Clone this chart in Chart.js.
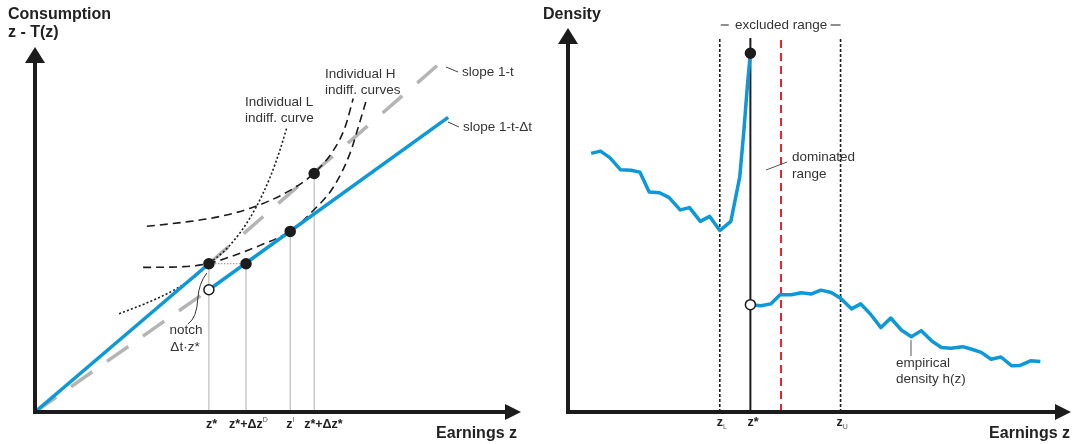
<!DOCTYPE html>
<html>
<head>
<meta charset="utf-8">
<script src="https://cdn.jsdelivr.net/npm/chart.js@4.4.1/dist/chart.umd.min.js"></script>
<style>
  html, body { margin: 0; padding: 0; background: #fff; }
  #wrap { position: relative; width: 1072px; height: 444px; overflow: hidden; }
  #budget { position: absolute; left: 0; top: 0; }
  #density { position: absolute; left: 540px; top: 0; }
</style>
</head>
<body>
<div id="wrap">
  <canvas id="budget" width="540" height="444"></canvas>
  <canvas id="density" width="532" height="444"></canvas>
</div>
<script>
// ---------- Budget set with a notch (left panel) ----------
// Earnings z on x, consumption z - T(z) on y, both in arbitrary units 0..100
const budgetBelowNotch = [{x: 0, y: 0}, {x: 37.0, y: 40.4}];     // slope 1-t up to z*
const budgetAboveNotch = [{x: 37.0, y: 33.3}, {x: 87.9, y: 80.3}]; // slope 1-t-Δt after z*
const slopeTExtension = [{x: 37.0, y: 40.4}, {x: 87.2, y: 96.2}];
const slopeTDtExtension = [{x: 0, y: 0}, {x: 37.0, y: 33.3}];

const indiffL = [
  {x: 17.9, y: 26.8}, {x: 23.4, y: 29.5}, {x: 29.4, y: 33.1}, {x: 33.8, y: 36.6},
  {x: 37.0, y: 40.4}, {x: 40.4, y: 44.0}, {x: 44.0, y: 49.5}, {x: 47.0, y: 55.7},
  {x: 50.0, y: 63.9}, {x: 52.1, y: 71.3}, {x: 53.6, y: 77.6}
];
const indiffHUpper = [
  {x: 23.8, y: 50.6}, {x: 31.6, y: 51.7}, {x: 38.7, y: 53.1}, {x: 46.4, y: 55.8},
  {x: 53.6, y: 59.9}, {x: 59.2, y: 64.9}, {x: 63.5, y: 71.3}, {x: 66.0, y: 77.7},
  {x: 67.7, y: 85.4}
];
const indiffHLower = [
  {x: 23.0, y: 39.4}, {x: 31.6, y: 39.6}, {x: 37.0, y: 40.5}, {x: 42.2, y: 42.6},
  {x: 47.9, y: 45.4}, {x: 54.3, y: 49.3}, {x: 59.2, y: 54.9}, {x: 63.5, y: 61.3},
  {x: 67.0, y: 70.4}, {x: 68.8, y: 77.7}, {x: 70.6, y: 85.4}
];

// z*, z*+Δz^D, z^I, z*+Δz*
const keyPoints = [{x: 37.0, y: 40.4}, {x: 44.9, y: 40.4}, {x: 54.3, y: 49.2}, {x: 59.4, y: 65.0}];
const notchOpenPoint = [{x: 37.0, y: 33.3}];
const budgetTicks = keyPoints.map(p => p.x);
const budgetTickLabels = [
  [{t: 'z*'}],
  [{t: 'z*+Δz'}, {t: 'D', sup: true}],
  [{t: 'z'}, {t: 'I', sup: true}],
  [{t: 'z*+Δz*'}]
];

// ---------- Earnings density (right panel) ----------
const densBelowX = [4.7, 6.6, 8.5, 10.7, 12.8, 14.6, 16.5, 18.6, 20.5, 22.8, 24.7, 26.9, 28.8, 30.85, 33.1, 34.9, 35.7, 36.5, 37.07];
const densBelowY = [67.7, 68.3, 66.6, 63.4, 63.3, 62.8, 57.6, 57.4, 56.2, 52.9, 53.5, 49.9, 51.2, 47.5, 49.9, 61.5, 72.9, 86.0, 93.9];
const densAboveX = [37.07, 39.2, 41.2, 43.1, 45.4, 47.4, 49.5, 51.4, 53.5, 55.4, 57.6, 59.5, 61.5, 63.6, 65.6, 67.8, 69.8, 71.8, 74.0, 75.9, 77.8, 80.2, 81.9, 84.0, 86.0, 88.0, 90.2, 91.9, 94.0, 96.0];
const densAboveY = [28.1, 27.8, 28.3, 30.7, 30.7, 31.2, 30.9, 31.9, 31.3, 29.8, 27.0, 28.3, 25.6, 22.1, 24.6, 21.4, 19.7, 21.3, 18.5, 16.9, 16.7, 17.1, 16.5, 15.6, 13.8, 14.4, 12.1, 12.2, 13.4, 13.2];
const zL = 30.85, zStar = 37.07, zDominatedEnd = 43.3, zU = 55.4;
const markerTop = 97.9;
const densityTicks = [zL, zStar, zU];
const densityTickLabels = [
  [{t: 'z'}, {t: 'L', sub: true}],
  [{t: 'z*'}],
  [{t: 'z'}, {t: 'U', sub: true}]
];

const toXY = (xs, ys) => xs.map((x, i) => ({x, y: ys[i]}));

// ---------- shared helpers ----------
const FONT = '"Liberation Sans", Arial, sans-serif';
const BLUE = '#0d98d8';
const INK = '#1c1c1c';
const TEXT = '#353535';

function line(data, color, width, dash, order, extra) {
  return Object.assign({
    type: 'line', data, borderColor: color, borderWidth: width, borderDash: dash || [],
    pointRadius: 0, fill: false, tension: 0, order
  }, extra || {});
}
function dots(data, fill, order) {
  return {
    type: 'line', data, showLine: false, pointRadius: 5, pointHoverRadius: 5,
    pointBackgroundColor: fill, pointBorderColor: INK, pointBorderWidth: 1.5, order
  };
}
function baseOptions(padding) {
  return {
    responsive: false, animation: false, events: [],
    layout: {padding},
    plugins: {legend: {display: false}, tooltip: {enabled: false}},
    scales: {
      x: {type: 'linear', min: 0, max: 100, display: false},
      y: {type: 'linear', min: 0, max: 100, display: false}
    }
  };
}
function text(ctx, s, x, y, font, color, align) {
  ctx.font = font; ctx.fillStyle = color || TEXT;
  ctx.textAlign = align || 'left'; ctx.textBaseline = 'middle';
  ctx.fillText(s, x, y);
}
function segment(ctx, x1, y1, x2, y2, color, w) {
  ctx.beginPath(); ctx.moveTo(x1, y1); ctx.lineTo(x2, y2);
  ctx.strokeStyle = color; ctx.lineWidth = w; ctx.setLineDash([]); ctx.stroke();
}
function arrowAxes(ctx, ox, oy, topY, rightX) {
  ctx.save();
  ctx.strokeStyle = INK; ctx.fillStyle = INK; ctx.lineWidth = 4; ctx.setLineDash([]);
  ctx.beginPath(); ctx.moveTo(ox, oy); ctx.lineTo(ox, topY + 14); ctx.stroke();
  ctx.beginPath(); ctx.moveTo(ox - 2, oy); ctx.lineTo(rightX - 14, oy); ctx.stroke();
  ctx.beginPath(); ctx.moveTo(ox, topY); ctx.lineTo(ox - 10, topY + 16); ctx.lineTo(ox + 10, topY + 16); ctx.closePath(); ctx.fill();
  ctx.beginPath(); ctx.moveTo(rightX, oy); ctx.lineTo(rightX - 16, oy - 8); ctx.lineTo(rightX - 16, oy + 8); ctx.closePath(); ctx.fill();
  ctx.restore();
}
// draws a tick label made of parts, some raised or lowered in a smaller font
function richLabel(ctx, parts, x, y) {
  let cx = x;
  parts.forEach(p => {
    const small = p.sup || p.sub;
    ctx.font = small ? '7px ' + FONT : 'bold 12.5px ' + FONT;
    ctx.fillStyle = small ? '#555' : '#222';
    ctx.textAlign = 'left'; ctx.textBaseline = 'middle';
    const dy = p.sup ? -5 : (p.sub ? 4 : 0);
    ctx.fillText(p.t, cx, y + dy);
    cx += ctx.measureText(p.t).width + (small ? 0 : 0);
  });
}

// ---------- left chart ----------
const budgetDecor = {
  id: 'budgetDecor',
  afterDatasetsDraw(chart) {
    const {ctx, scales: {x, y}} = chart;
    const ox = x.getPixelForValue(0), oy = y.getPixelForValue(0);
    arrowAxes(ctx, ox, oy, y.top + 2, x.right + 16);

    text(ctx, 'Consumption', 8, 15, 'bold 16px ' + FONT, '#222');
    text(ctx, 'z - T(z)', 8, 33, 'bold 16px ' + FONT, '#222');
    text(ctx, 'Earnings z', 517, 434, 'bold 16px ' + FONT, '#222', 'right');

    const labelShift = [-3, -17, -4, -10];
    budgetTicks.forEach((v, i) => richLabel(ctx, budgetTickLabels[i], x.getPixelForValue(v) + labelShift[i], 425));

    const f = '13.5px ' + FONT;
    text(ctx, 'Individual L', 245, 102, f);
    text(ctx, 'indiff. curve', 245, 118, f);
    text(ctx, 'Individual H', 325, 74, f);
    text(ctx, 'indiff. curves', 325, 90, f);
    text(ctx, 'slope 1-t', 462, 72, f);
    segment(ctx, 446, 67, 458, 72, '#444', 1);
    text(ctx, 'slope 1-t-Δt', 463, 127, f);
    segment(ctx, 448, 122, 459, 127, '#444', 1);
    text(ctx, 'notch', 186, 330, f, TEXT, 'center');
    text(ctx, 'Δt·z*', 185, 347, f, TEXT, 'center');

    // curved leader towards the notch
    const nx = x.getPixelForValue(keyPoints[0].x);
    ctx.save();
    ctx.beginPath();
    ctx.moveTo(nx - 2, 273);
    ctx.quadraticCurveTo(nx - 10, 283, nx - 11, 298);
    ctx.quadraticCurveTo(nx - 12, 318, nx - 21, 324);
    ctx.strokeStyle = '#333'; ctx.lineWidth = 1; ctx.setLineDash([]); ctx.stroke();
    ctx.restore();
  }
};

const dropLines = keyPoints.map(p => line([{x: p.x, y: 0}, {x: p.x, y: p.y}], '#9a9a9a', 0.8, [], 6));

new Chart(document.getElementById('budget'), {
  type: 'line',
  data: {
    datasets: [
      dots(keyPoints, INK, 0),
      dots(notchOpenPoint, '#ffffff', 0),
      line(budgetBelowNotch, BLUE, 3.5, [], 1),
      line(budgetAboveNotch, BLUE, 3.5, [], 1),
      line(indiffL, INK, 1.6, [2, 2.2], 2, {cubicInterpolationMode: 'monotone'}),
      line(indiffHUpper, INK, 1.6, [8, 5], 2, {cubicInterpolationMode: 'monotone'}),
      line(indiffHLower, INK, 1.6, [8, 5], 2, {cubicInterpolationMode: 'monotone'}),
      line(slopeTExtension, '#b4b4b4', 3.5, [26, 20], 4),
      line(slopeTDtExtension, '#b4b4b4', 3.5, [26, 18], 4),
      line([keyPoints[0], keyPoints[1]], '#8a8a8a', 1, [1.5, 1.5], 5),
      ...dropLines
    ]
  },
  options: baseOptions({left: 35, right: 35, top: 45, bottom: 32}),
  plugins: [budgetDecor]
});

// ---------- right chart ----------
const densityDecor = {
  id: 'densityDecor',
  afterDatasetsDraw(chart) {
    const {ctx, scales: {x, y}} = chart;
    const ox = x.getPixelForValue(0), oy = y.getPixelForValue(0);
    arrowAxes(ctx, ox, oy, y.top - 2, x.right + 11);

    text(ctx, 'Density', 3, 15, 'bold 16px ' + FONT, '#222');
    text(ctx, 'Earnings z', 530, 434, 'bold 16px ' + FONT, '#222', 'right');

    const labelShift = [-3, -3, -4];
    densityTicks.forEach((v, i) => richLabel(ctx, densityTickLabels[i], x.getPixelForValue(v) + labelShift[i], 423));

    const f = '13.5px ' + FONT;
    const xl = x.getPixelForValue(zL), xu = x.getPixelForValue(zU);
    text(ctx, 'excluded range', (xl + xu) / 2 + 1, 25, f, TEXT, 'center');
    segment(ctx, xl + 1, 25, xl + 9, 25, '#444', 1.2);
    segment(ctx, xu - 10, 25, xu, 25, '#444', 1.2);

    text(ctx, 'dominated', 252, 157, f);
    text(ctx, 'range', 252, 174, f);
    segment(ctx, 226, 170, 247, 162, '#555', 1);

    text(ctx, 'empirical', 356, 363, f);
    text(ctx, 'density h(z)', 356, 379, f);
    segment(ctx, 371, 340, 371, 356, '#555', 1);
  }
};

const vmark = (v, color, w, dash) => line([{x: v, y: 0}, {x: v, y: markerTop}], color, w, dash, 3);

new Chart(document.getElementById('density'), {
  type: 'line',
  data: {
    datasets: [
      dots([{x: zStar, y: densBelowY[densBelowY.length - 1]}], INK, 0),
      dots([{x: zStar, y: densAboveY[0]}], '#ffffff', 0),
      line(toXY(densBelowX, densBelowY), BLUE, 3.5, [], 1, {borderJoinStyle: 'round'}),
      line(toXY(densAboveX, densAboveY), BLUE, 3.5, [], 1, {borderJoinStyle: 'round'}),
      vmark(zStar, INK, 2, []),
      vmark(zL, INK, 1.6, [3, 2]),
      vmark(zU, INK, 1.6, [3, 2]),
      vmark(zDominatedEnd, '#e52330', 2, [8, 5])
    ]
  },
  options: baseOptions({left: 28, right: 12, top: 30, bottom: 32}),
  plugins: [densityDecor]
});
</script>
</body>
</html>
